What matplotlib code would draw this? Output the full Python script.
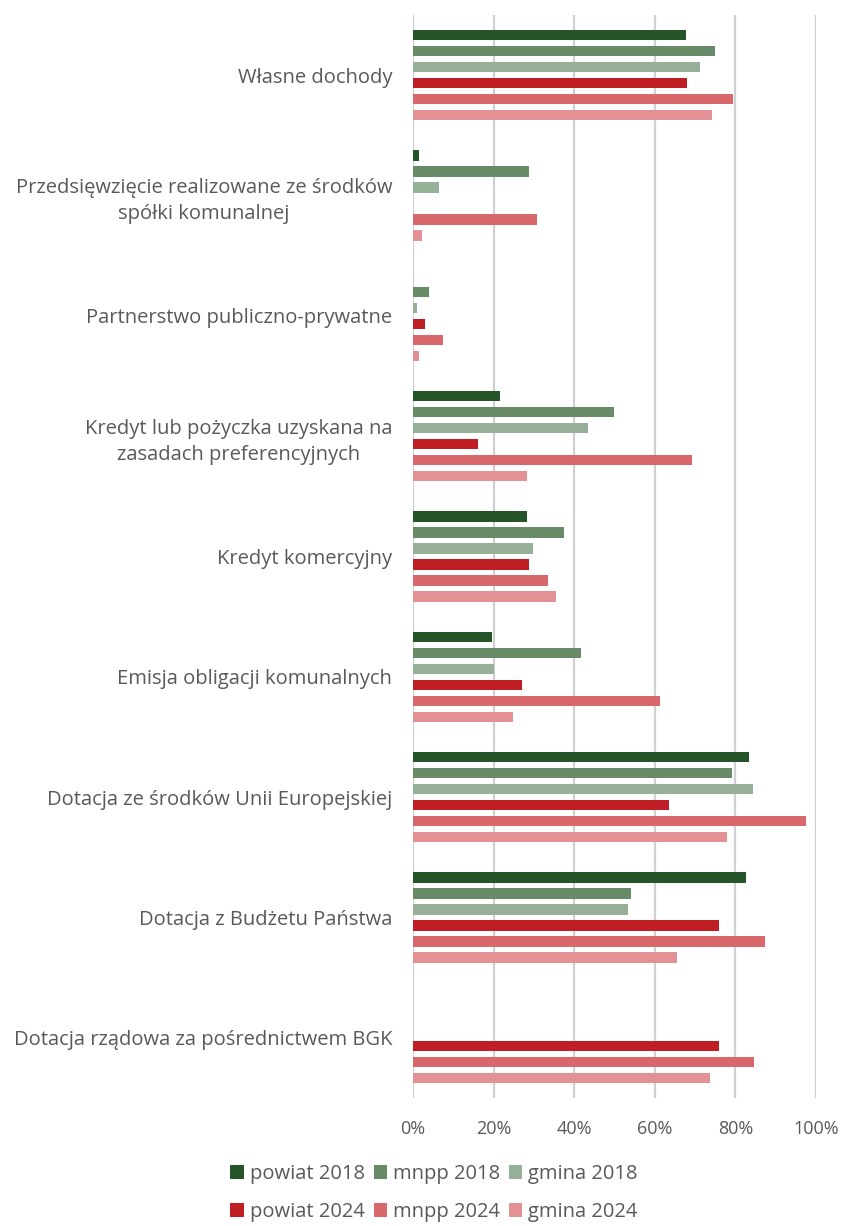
import matplotlib
matplotlib.use("Agg")
import matplotlib.pyplot as plt
import numpy as np
from matplotlib.patches import Patch

categories = [
    "Własne dochody",
    "Przedsięwzięcie realizowane ze środków\nspółki komunalnej",
    "Partnerstwo publiczno-prywatne",
    "Kredyt lub pożyczka uzyskana na\nzasadach preferencyjnych",
    "Kredyt komercyjny",
    "Emisja obligacji komunalnych",
    "Dotacja ze środków Unii Europejskiej",
    "Dotacja z Budżetu Państwa",
    "Dotacja rządowa za pośrednictwem BGK",
]

series_names = ["powiat 2018", "mnpp 2018", "gmina 2018",
                "powiat 2024", "mnpp 2024", "gmina 2024"]

powiat_2018 = [67.8, 1.5, 0.0, 21.5, 28.2, 19.7, 83.4, 82.6, 0.0]
mnpp_2018   = [75.0, 28.9, 4.0, 49.8, 37.4, 41.7, 79.1, 54.2, 0.0]
gmina_2018  = [71.2, 6.4, 1.1, 43.5, 29.9, 20.1, 84.3, 53.3, 0.0]
powiat_2024 = [68.1, 0.0, 2.9, 16.2, 28.7, 27.0, 63.5, 75.9, 75.9]
mnpp_2024   = [79.3, 30.7, 7.5, 69.3, 33.4, 61.4, 97.4, 87.3, 84.6]
gmina_2024  = [74.2, 2.3, 1.4, 28.4, 35.4, 24.9, 77.9, 65.5, 73.6]

xticks = [0, 20, 40, 60, 80, 100]
xtick_labels = ["0%", "20%", "40%", "60%", "80%", "100%"]

colors = ["#245427", "#688a66", "#97b098", "#be1e24", "#d9686d", "#e49196"]

series = [powiat_2018, mnpp_2018, gmina_2018, powiat_2024, mnpp_2024, gmina_2024]

plt.rcParams['font.family'] = ['Open Sans', 'DejaVu Sans']
text_color = "#595959"

fig = plt.figure(figsize=(8.44, 12.26), dpi=100)
W, H = 844, 1226
left, right, top, bottom = 413, 816, 15, 1098
ax = fig.add_axes([left / W, 1 - bottom / H, (right - left) / W, (bottom - top) / H])

n = len(categories)
y = np.arange(n)
step = 0.133
bh = 0.088
for j, (vals, c) in enumerate(zip(series, colors)):
    ax.barh(y + (j - 2.5) * step, vals, height=bh, color=c, linewidth=0, zorder=3)

ax.set_xlim(0, 100)
ax.set_ylim(n - 0.5, -0.5)
ax.set_xticks(xticks)
ax.set_xticklabels(xtick_labels)
ax.set_yticks(y)
ax.set_yticklabels(categories, ha="right", multialignment="center", linespacing=1.4)
ax.tick_params(axis="both", length=0, colors=text_color)
ax.tick_params(axis="x", labelsize=13, pad=16)
ax.tick_params(axis="y", labelsize=14.5, pad=15)
for s in ax.spines.values():
    s.set_visible(False)
ax.grid(axis="x", color="#d0d0d4", linewidth=1.6, zorder=0)
ax.set_axisbelow(True)

order = [0, 3, 1, 4, 2, 5]
handles = [Patch(facecolor=colors[i], edgecolor="none") for i in order]
labels = [series_names[i] for i in order]
fig.legend(handles, labels, ncol=3, loc="center", bbox_to_anchor=(434 / W, 1 - 1193 / H),
           frameon=False, fontsize=14.5, labelcolor=text_color, handlelength=0.65,
           handleheight=0.65, handletextpad=0.3, columnspacing=0.45, labelspacing=0.9,
           borderpad=0.1)

fig.savefig("out.png", dpi=100)
